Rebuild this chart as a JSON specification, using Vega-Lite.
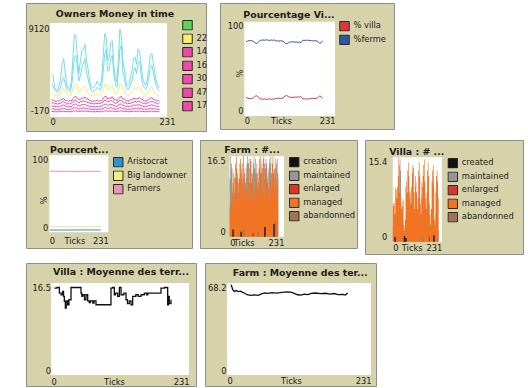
{
"$schema": "https://vega.github.io/schema/vega-lite/v6.json",
"background": "white",
"padding": {"left": 25, "top": 2, "right": 0, "bottom": 0},
"config": {
  "font": "DejaVu Sans",
  "view": {"fill": "#d6d2aa", "stroke": "#8d8d8d", "strokeWidth": 1},
  "axis": {"domain": false, "ticks": false, "grid": false, "labelFont": "DejaVu Sans", "labelFontSize": 8.3, "labelColor": "#1c1c1c", "labelFlush": false, "labelOverlap": false, "labelBound": false, "labelExpr": "'' + datum.value", "titleFont": "DejaVu Sans", "titleFontSize": 8.3, "titleFontWeight": "normal", "titleColor": "#1c1c1c", "titleBaseline": "middle", "titleAlign": "center"},
  "axisX": {"labelBaseline": "middle", "labelAngle": 0, "labelAlign": {"condition": {"test": "datum.value == 0", "value": "left"}, "value": "right"}},
  "axisY": {"labelAlign": "right", "labelBaseline": {"condition": {"test": "datum.value > 0", "value": "top"}, "value": "bottom"}},
  "title": {"font": "DejaVu Sans", "fontSize": 9.4, "fontWeight": "bold", "color": "#1c1c1c", "anchor": "middle", "frame": "group"},
  "legend": {"labelFont": "DejaVu Sans", "labelFontSize": 8.3, "labelColor": "#1c1c1c", "symbolType": "square", "symbolSize": 90, "symbolStrokeColor": "#2a2a2a", "symbolStrokeWidth": 1, "rowPadding": 2.5, "clipHeight": 10.5, "labelOffset": 3.5, "padding": 0, "symbolOpacity": 1},
  "line": {"strokeWidth": 1}
},
"datasets": {
  "money": [
    {"t":3,"c1":4100,"c2":2900,"22":1900,"14":1245,"16":818,"30":531,"47":144,"17":-93},
    {"t":6,"c1":3900,"c2":2700,"22":1850,"14":1125,"16":892,"30":459,"47":206,"17":-127},
    {"t":9,"c1":2600,"c2":2300,"22":1700,"14":1080,"16":738,"30":476,"47":114,"17":-128},
    {"t":12,"c1":2300,"c2":2100,"22":1650,"14":990,"16":780,"30":410,"47":150,"17":-160},
    {"t":15,"c1":2200,"c2":2000,"22":1600,"14":1090,"16":700,"30":440,"47":80,"17":-125},
    {"t":18,"c1":2800,"c2":2200,"22":1700,"14":1055,"16":790,"30":395,"47":150,"17":-140},
    {"t":21,"c1":3600,"c2":2600,"22":1900,"14":1200,"16":782,"30":504,"47":126,"17":-102},
    {"t":24,"c1":5200,"c2":3300,"22":2300,"14":1235,"16":980,"30":525,"47":250,"17":-105},
    {"t":27,"c1":5800,"c2":3700,"22":2500,"14":1345,"16":950,"30":635,"47":220,"17":-75},
    {"t":30,"c1":4200,"c2":3000,"22":2100,"14":1130,"16":892,"30":494,"47":206,"17":-132},
    {"t":33,"c1":2900,"c2":2400,"22":1800,"14":1125,"16":728,"30":461,"47":94,"17":-118},
    {"t":36,"c1":2500,"c2":2200,"22":1700,"14":1030,"16":770,"30":380,"47":140,"17":-145},
    {"t":39,"c1":2400,"c2":2100,"22":1650,"14":1110,"16":710,"30":450,"47":90,"17":-120},
    {"t":42,"c1":3100,"c2":2500,"22":1800,"14":1060,"16":840,"30":420,"47":180,"17":-140},
    {"t":45,"c1":5600,"c2":3900,"22":2400,"14":1330,"16":938,"30":626,"47":214,"17":-78},
    {"t":48,"c1":8500,"c2":5900,"22":2900,"14":1490,"16":1180,"30":710,"47":350,"17":-60},
    {"t":51,"c1":8400,"c2":6200,"22":3000,"14":1580,"16":1092,"30":734,"47":276,"17":-27},
    {"t":54,"c1":6100,"c2":4800,"22":2500,"14":1330,"16":1010,"30":560,"47":260,"17":-85},
    {"t":57,"c1":4200,"c2":3300,"22":2000,"14":1250,"16":822,"30":534,"47":146,"17":-92},
    {"t":60,"c1":5500,"c2":3900,"22":2200,"14":1260,"16":1000,"30":540,"47":260,"17":-100},
    {"t":63,"c1":6700,"c2":4700,"22":2500,"14":1420,"16":1010,"30":680,"47":250,"17":-60},
    {"t":66,"c1":6900,"c2":5300,"22":2600,"14":1355,"16":1072,"30":629,"47":296,"17":-87},
    {"t":69,"c1":7400,"c2":5800,"22":2700,"14":1500,"16":1028,"30":686,"47":244,"17":-43},
    {"t":72,"c1":5600,"c2":4200,"22":2300,"14":1290,"16":978,"30":536,"47":244,"17":-93},
    {"t":75,"c1":4700,"c2":3600,"22":2000,"14":1295,"16":858,"30":561,"47":164,"17":-83},
    {"t":78,"c1":3500,"c2":2800,"22":1800,"14":1095,"16":868,"30":441,"47":194,"17":-133},
    {"t":81,"c1":2700,"c2":2300,"22":1700,"14":1085,"16":742,"30":479,"47":116,"17":-127},
    {"t":84,"c1":2500,"c2":2100,"22":1600,"14":990,"16":780,"30":410,"47":150,"17":-160},
    {"t":87,"c1":2600,"c2":2200,"22":1650,"14":1100,"16":708,"30":446,"47":84,"17":-123},
    {"t":90,"c1":2800,"c2":2300,"22":1700,"14":1055,"16":790,"30":395,"47":150,"17":-145},
    {"t":93,"c1":3300,"c2":2600,"22":1800,"14":1175,"16":762,"30":489,"47":116,"17":-107},
    {"t":96,"c1":2900,"c2":2400,"22":1750,"14":1045,"16":828,"30":411,"47":174,"17":-143},
    {"t":99,"c1":2700,"c2":2300,"22":1700,"14":1085,"16":742,"30":479,"47":116,"17":-127},
    {"t":102,"c1":3600,"c2":2700,"22":1850,"14":1080,"16":852,"30":464,"47":186,"17":-142},
    {"t":105,"c1":6000,"c2":4200,"22":2400,"14":1380,"16":932,"30":614,"47":196,"17":-67},
    {"t":108,"c1":8600,"c2":6300,"22":2900,"14":1530,"16":1170,"30":680,"47":340,"17":-45},
    {"t":111,"c1":8200,"c2":6900,"22":2900,"14":1585,"16":1090,"30":735,"47":280,"17":-25},
    {"t":114,"c1":5600,"c2":4400,"22":2300,"14":1270,"16":1008,"30":546,"47":264,"17":-98},
    {"t":117,"c1":5900,"c2":4600,"22":2400,"14":1355,"16":958,"30":641,"47":224,"17":-73},
    {"t":120,"c1":7600,"c2":5800,"22":2700,"14":1415,"16":1120,"30":665,"47":320,"17":-75},
    {"t":123,"c1":7800,"c2":6200,"22":2800,"14":1530,"16":1052,"30":704,"47":256,"17":-37},
    {"t":126,"c1":5000,"c2":4100,"22":2200,"14":1240,"16":938,"30":506,"47":224,"17":-103},
    {"t":129,"c1":3800,"c2":3000,"22":1900,"14":1220,"16":798,"30":516,"47":134,"17":-98},
    {"t":132,"c1":3200,"c2":2600,"22":1800,"14":1070,"16":848,"30":426,"47":184,"17":-138},
    {"t":135,"c1":5800,"c2":4300,"22":2300,"14":1345,"16":950,"30":635,"47":220,"17":-75},
    {"t":138,"c1":9120,"c2":6800,"22":3000,"14":1490,"16":1180,"30":710,"47":350,"17":-60},
    {"t":141,"c1":8300,"c2":7300,"22":2900,"14":1575,"16":1088,"30":731,"47":274,"17":-28},
    {"t":144,"c1":5500,"c2":4300,"22":2300,"14":1280,"16":970,"30":530,"47":240,"17":-95},
    {"t":147,"c1":4600,"c2":3600,"22":2100,"14":1285,"16":850,"30":555,"47":160,"17":-85},
    {"t":150,"c1":3200,"c2":2600,"22":1800,"14":1070,"16":848,"30":426,"47":184,"17":-138},
    {"t":153,"c1":2700,"c2":2300,"22":1700,"14":1085,"16":742,"30":479,"47":116,"17":-127},
    {"t":156,"c1":2900,"c2":2400,"22":1700,"14":1025,"16":808,"30":431,"47":164,"17":-153},
    {"t":159,"c1":3800,"c2":2900,"22":1900,"14":1200,"16":788,"30":506,"47":124,"17":-103},
    {"t":162,"c1":4500,"c2":3400,"22":2100,"14":1195,"16":902,"30":479,"47":206,"17":-112},
    {"t":165,"c1":5800,"c2":4300,"22":2400,"14":1385,"16":930,"30":615,"47":200,"17":-65},
    {"t":168,"c1":6000,"c2":4800,"22":2500,"14":1300,"16":1032,"30":564,"47":276,"17":-92},
    {"t":171,"c1":5200,"c2":4100,"22":2300,"14":1295,"16":910,"30":605,"47":200,"17":-85},
    {"t":174,"c1":6900,"c2":5400,"22":2700,"14":1355,"16":1072,"30":629,"47":296,"17":-87},
    {"t":177,"c1":6600,"c2":5500,"22":2600,"14":1430,"16":972,"30":644,"47":216,"17":-57},
    {"t":180,"c1":5000,"c2":3900,"22":2200,"14":1240,"16":938,"30":506,"47":224,"17":-103},
    {"t":183,"c1":3700,"c2":2900,"22":1900,"14":1210,"16":790,"30":510,"47":130,"17":-100},
    {"t":186,"c1":3100,"c2":2600,"22":1800,"14":1060,"16":840,"30":420,"47":180,"17":-140},
    {"t":189,"c1":2800,"c2":2400,"22":1750,"14":1095,"16":750,"30":485,"47":120,"17":-125},
    {"t":192,"c1":3400,"c2":2700,"22":1850,"14":1065,"16":840,"30":455,"47":180,"17":-145},
    {"t":195,"c1":4700,"c2":3600,"22":2200,"14":1275,"16":848,"30":551,"47":154,"17":-88},
    {"t":198,"c1":6200,"c2":4700,"22":2500,"14":1340,"16":1018,"30":566,"47":264,"17":-83},
    {"t":201,"c1":6400,"c2":5100,"22":2600,"14":1435,"16":970,"30":645,"47":220,"17":-55},
    {"t":204,"c1":5300,"c2":4200,"22":2300,"14":1245,"16":988,"30":531,"47":254,"17":-103},
    {"t":207,"c1":4200,"c2":3400,"22":2000,"14":1210,"16":842,"30":554,"47":166,"17":-102},
    {"t":210,"c1":3300,"c2":2700,"22":1800,"14":1055,"16":832,"30":449,"47":176,"17":-147},
    {"t":213,"c1":2800,"c2":2400,"22":1700,"14":1115,"16":720,"30":455,"47":90,"17":-120},
    {"t":216,"c1":2500,"c2":2200,"22":1650,"14":1030,"16":770,"30":380,"47":140,"17":-145}
  ],
  "pct": [
    {"t":4,"% villa":19.9,"%ferme":78.6},{"t":8,"% villa":19.0,"%ferme":79.4},{"t":12,"% villa":18.7,"%ferme":79.8},
    {"t":16,"% villa":18.4,"%ferme":80.1},{"t":20,"% villa":18.6,"%ferme":79.7},{"t":24,"% villa":19.5,"%ferme":78.9},
    {"t":28,"% villa":21.0,"%ferme":77.4},{"t":32,"% villa":21.6,"%ferme":76.8},{"t":36,"% villa":19.8,"%ferme":78.5},
    {"t":40,"% villa":18.2,"%ferme":80.2},{"t":44,"% villa":18.0,"%ferme":80.4},{"t":48,"% villa":17.8,"%ferme":80.6},
    {"t":52,"% villa":18.1,"%ferme":80.3},{"t":56,"% villa":17.6,"%ferme":80.8},{"t":60,"% villa":17.9,"%ferme":80.5},
    {"t":64,"% villa":18.3,"%ferme":80.0},{"t":68,"% villa":17.7,"%ferme":80.7},{"t":72,"% villa":18.0,"%ferme":80.3},
    {"t":76,"% villa":17.8,"%ferme":80.6},{"t":80,"% villa":18.6,"%ferme":79.8},{"t":84,"% villa":18.7,"%ferme":79.6},
    {"t":88,"% villa":19.0,"%ferme":79.4},{"t":92,"% villa":18.5,"%ferme":79.9},{"t":96,"% villa":18.8,"%ferme":79.5},
    {"t":100,"% villa":19.4,"%ferme":79.0},{"t":104,"% villa":21.3,"%ferme":77.1},{"t":108,"% villa":21.6,"%ferme":76.7},
    {"t":112,"% villa":20.9,"%ferme":77.5},{"t":116,"% villa":19.8,"%ferme":78.6},{"t":120,"% villa":19.9,"%ferme":78.4},
    {"t":124,"% villa":19.6,"%ferme":78.8},{"t":128,"% villa":20.1,"%ferme":78.2},{"t":132,"% villa":19.8,"%ferme":78.6},
    {"t":136,"% villa":20.3,"%ferme":78.0},{"t":140,"% villa":20.0,"%ferme":78.4},{"t":144,"% villa":20.6,"%ferme":77.8},
    {"t":148,"% villa":18.5,"%ferme":79.9},{"t":152,"% villa":18.0,"%ferme":80.4},{"t":156,"% villa":18.2,"%ferme":80.1},
    {"t":160,"% villa":17.9,"%ferme":80.5},{"t":164,"% villa":18.1,"%ferme":80.2},{"t":168,"% villa":18.4,"%ferme":80.0},
    {"t":172,"% villa":18.6,"%ferme":79.8},{"t":176,"% villa":18.8,"%ferme":79.5},{"t":180,"% villa":18.5,"%ferme":79.9},
    {"t":184,"% villa":18.7,"%ferme":79.6},{"t":188,"% villa":19.6,"%ferme":78.8},{"t":192,"% villa":21.4,"%ferme":77.0},
    {"t":196,"% villa":20.2,"%ferme":78.1},{"t":200,"% villa":18.6,"%ferme":79.7}
  ],
  "cls": [
    {"t":3,"Aristocrat":3.0,"Big landowner":7.3,"Farmers":79.2},
    {"t":50,"Aristocrat":2.9,"Big landowner":7.4,"Farmers":79.3},
    {"t":100,"Aristocrat":3.0,"Big landowner":7.2,"Farmers":79.1},
    {"t":150,"Aristocrat":3.1,"Big landowner":7.3,"Farmers":79.2},
    {"t":202,"Aristocrat":3.0,"Big landowner":7.3,"Farmers":79.2}
  ],
  "farm": [
    {"t":0,"managed":6,"maintained":12},{"t":3,"managed":7,"maintained":16.5},{"t":6,"managed":5,"maintained":15},
    {"t":9,"managed":9,"maintained":14},{"t":12,"managed":11,"maintained":8},{"t":15,"managed":13,"maintained":10},
    {"t":18,"managed":8,"maintained":12},{"t":21,"managed":12,"maintained":9},{"t":24,"managed":15,"maintained":11},
    {"t":27,"managed":16.5,"maintained":10},{"t":30,"managed":14,"maintained":12},{"t":33,"managed":9,"maintained":13},
    {"t":36,"managed":7,"maintained":11},{"t":39,"managed":12,"maintained":9},{"t":42,"managed":15,"maintained":12},
    {"t":45,"managed":16,"maintained":10},{"t":48,"managed":13,"maintained":14},{"t":51,"managed":10,"maintained":12},
    {"t":54,"managed":15,"maintained":11},{"t":57,"managed":16.5,"maintained":9},{"t":60,"managed":12,"maintained":14},
    {"t":63,"managed":8,"maintained":13},{"t":66,"managed":11,"maintained":10},{"t":69,"managed":14,"maintained":12},
    {"t":72,"managed":10,"maintained":15},{"t":75,"managed":9,"maintained":16.5},{"t":78,"managed":12,"maintained":15},
    {"t":81,"managed":8,"maintained":16},{"t":84,"managed":14,"maintained":11},{"t":87,"managed":16,"maintained":12},
    {"t":90,"managed":15.5,"maintained":10},{"t":93,"managed":11,"maintained":13},{"t":96,"managed":13,"maintained":12},
    {"t":99,"managed":9,"maintained":15},{"t":102,"managed":7,"maintained":16.5},{"t":105,"managed":10,"maintained":14},
    {"t":108,"managed":12,"maintained":16},{"t":111,"managed":8,"maintained":13},{"t":114,"managed":11,"maintained":15},
    {"t":117,"managed":13,"maintained":10},{"t":120,"managed":9,"maintained":12},{"t":123,"managed":14,"maintained":11},
    {"t":126,"managed":16,"maintained":13},{"t":129,"managed":16.5,"maintained":12},{"t":132,"managed":13,"maintained":10},
    {"t":135,"managed":15,"maintained":11},{"t":138,"managed":10,"maintained":14},{"t":141,"managed":8,"maintained":16},
    {"t":144,"managed":12,"maintained":16.5},{"t":147,"managed":9,"maintained":15},{"t":150,"managed":14,"maintained":12},
    {"t":153,"managed":16,"maintained":10},{"t":156,"managed":15,"maintained":13},{"t":159,"managed":11,"maintained":12},
    {"t":162,"managed":13,"maintained":9},{"t":165,"managed":10,"maintained":14},{"t":168,"managed":7,"maintained":16},
    {"t":171,"managed":11,"maintained":15},{"t":174,"managed":12,"maintained":16.5},{"t":177,"managed":9,"maintained":13},
    {"t":180,"managed":15,"maintained":11},{"t":183,"managed":16.5,"maintained":12},{"t":186,"managed":13,"maintained":10},
    {"t":189,"managed":10,"maintained":14},{"t":192,"managed":14,"maintained":12},{"t":195,"managed":16,"maintained":9},
    {"t":198,"managed":11,"maintained":15},{"t":201,"managed":8,"maintained":16},{"t":204,"managed":12,"maintained":13},
    {"t":207,"managed":6,"maintained":10}
  ],
  "farmEv": [
    {"t":15,"k":"creation","v":1.5},{"t":49,"k":"creation","v":1.0},{"t":150,"k":"creation","v":2.0},
    {"t":189,"k":"creation","v":2.6},{"t":60,"k":"abandonned","v":1.4},{"t":120,"k":"abandonned","v":1.0},
    {"t":195,"k":"abandonned","v":3.0},{"t":100,"k":"enlarged","v":0.8}
  ],
  "villa": [
    {"t":0,"managed":7,"maintained":3},{"t":3,"managed":6.5,"maintained":2},{"t":6,"managed":7,"maintained":0},
    {"t":9,"managed":5,"maintained":4},{"t":12,"managed":9.8,"maintained":3},{"t":15,"managed":9.5,"maintained":6},
    {"t":18,"managed":8,"maintained":2},{"t":21,"managed":10,"maintained":5},{"t":24,"managed":12,"maintained":3},
    {"t":27,"managed":15.4,"maintained":6},{"t":30,"managed":14,"maintained":4},{"t":33,"managed":9,"maintained":15},
    {"t":36,"managed":7,"maintained":13},{"t":39,"managed":6,"maintained":4},{"t":42,"managed":8,"maintained":5},
    {"t":45,"managed":6.5,"maintained":3},{"t":48,"managed":7.5,"maintained":2},{"t":51,"managed":3,"maintained":1},
    {"t":54,"managed":2,"maintained":1},{"t":57,"managed":4,"maintained":2},{"t":60,"managed":10,"maintained":3},
    {"t":63,"managed":11,"maintained":5},{"t":66,"managed":9,"maintained":4},{"t":69,"managed":13,"maintained":6},
    {"t":72,"managed":14.5,"maintained":3},{"t":75,"managed":12,"maintained":5},{"t":78,"managed":8,"maintained":9},
    {"t":81,"managed":9,"maintained":4},{"t":84,"managed":7,"maintained":3},{"t":87,"managed":10,"maintained":6},
    {"t":90,"managed":12.5,"maintained":4},{"t":93,"managed":14,"maintained":7},{"t":96,"managed":13.5,"maintained":3},
    {"t":99,"managed":9,"maintained":5},{"t":102,"managed":6,"maintained":4},{"t":105,"managed":10,"maintained":12},
    {"t":108,"managed":11,"maintained":8},{"t":111,"managed":9,"maintained":3},{"t":114,"managed":6,"maintained":2},
    {"t":117,"managed":8,"maintained":4},{"t":120,"managed":13,"maintained":5},{"t":123,"managed":14.5,"maintained":3},
    {"t":126,"managed":12,"maintained":6},{"t":129,"managed":7,"maintained":4},{"t":132,"managed":5,"maintained":2},
    {"t":135,"managed":8,"maintained":11},{"t":138,"managed":10,"maintained":5},{"t":141,"managed":12,"maintained":3},
    {"t":144,"managed":14,"maintained":4},{"t":147,"managed":15,"maintained":6},{"t":150,"managed":11,"maintained":3},
    {"t":153,"managed":8,"maintained":4},{"t":156,"managed":6,"maintained":2},{"t":159,"managed":9,"maintained":5},
    {"t":162,"managed":13,"maintained":8},{"t":165,"managed":14.5,"maintained":4},{"t":168,"managed":12,"maintained":6},
    {"t":171,"managed":7,"maintained":3},{"t":174,"managed":5,"maintained":2},{"t":177,"managed":3,"maintained":1},
    {"t":180,"managed":6,"maintained":4},{"t":183,"managed":11,"maintained":5},{"t":186,"managed":13,"maintained":9},
    {"t":189,"managed":14,"maintained":12},{"t":192,"managed":10,"maintained":4},{"t":195,"managed":4,"maintained":2},
    {"t":198,"managed":3,"maintained":1},{"t":201,"managed":9,"maintained":5},{"t":204,"managed":12,"maintained":4},
    {"t":207,"managed":13,"maintained":6},{"t":210,"managed":11,"maintained":3},{"t":213,"managed":8,"maintained":2},
    {"t":216,"managed":0,"maintained":0}
  ],
  "villaEv": [
    {"t":11,"k":"created","v":0.8},{"t":55,"k":"created","v":1.0},{"t":62,"k":"created","v":0.7},
    {"t":172,"k":"enlarged","v":0.9},{"t":194,"k":"created","v":1.2},{"t":140,"k":"abandonned","v":0.6}
  ],
  "vmoy": [
    {"t":5.6,"v":15.6},{"t":10,"v":15.7},{"t":14,"v":14.7},{"t":17,"v":14.4},{"t":19.5,"v":15.0},{"t":21,"v":14.1},
    {"t":22.3,"v":13.2},{"t":24,"v":12.0},{"t":25.5,"v":13.3},{"t":27.9,"v":12.6},{"t":30,"v":13.5},{"t":33.5,"v":15.7},
    {"t":50.2,"v":14.7},{"t":51.5,"v":14.1},{"t":53,"v":14.4},{"t":56,"v":13.5},{"t":58.6,"v":14.4},{"t":61.4,"v":13.3},
    {"t":64,"v":13.0},{"t":66,"v":13.3},{"t":70,"v":12.9},{"t":72,"v":13.3},{"t":75.3,"v":12.6},{"t":100.4,"v":15.6},
    {"t":103,"v":15.7},{"t":106,"v":14.4},{"t":108,"v":14.7},{"t":111.6,"v":14.1},{"t":114.4,"v":15.7},{"t":117.2,"v":14.4},
    {"t":122,"v":14.7},{"t":125.6,"v":13.5},{"t":128,"v":12.8},{"t":131,"v":13.3},{"t":133.9,"v":12.6},{"t":136.7,"v":14.1},
    {"t":142,"v":14.4},{"t":146,"v":14.1},{"t":150.7,"v":14.4},{"t":156.2,"v":14.7},{"t":160,"v":14.4},{"t":162,"v":14.7},
    {"t":170,"v":14.7},{"t":184.1,"v":15.6},{"t":190,"v":15.7},{"t":195.3,"v":12.6},{"t":196.5,"v":14.1},{"t":198,"v":12.8},
    {"t":200.9,"v":13.5}
  ],
  "fmoy": [
    {"t":6.4,"v":66.9},{"t":8,"v":65.0},{"t":9.1,"v":63.2},{"t":11.8,"v":62.0},{"t":15,"v":62.6},{"t":18,"v":61.8},
    {"t":22,"v":62.2},{"t":25,"v":61.3},{"t":27.8,"v":60.8},{"t":32,"v":59.5},{"t":38,"v":59.1},{"t":43.9,"v":59.4},
    {"t":50,"v":59.1},{"t":54.6,"v":60.0},{"t":59.9,"v":60.8},{"t":66,"v":60.5},{"t":72,"v":61.0},{"t":80,"v":60.7},
    {"t":88,"v":61.2},{"t":97.4,"v":61.6},{"t":104,"v":61.3},{"t":113.4,"v":59.5},{"t":118.8,"v":59.2},{"t":124,"v":60.0},
    {"t":130,"v":59.6},{"t":134.8,"v":60.5},{"t":142,"v":60.8},{"t":150,"v":60.3},{"t":158,"v":60.6},{"t":165,"v":60.0},
    {"t":172.2,"v":60.4},{"t":178,"v":59.6},{"t":186,"v":59.8},{"t":190,"v":59.3},{"t":193.6,"v":60.8}
  ]
},
"spacing": 7,
"resolve": {"scale": {"color": "independent", "stroke": "independent"}, "legend": {"color": "independent"}},
"vconcat": [
 {"hconcat": [
  {"width": 180, "height": 128,
   "title": {"text": "Owners Money in time", "dx": -1, "offset": -16},
   "layer": [
    {"data": {"values": [{}]}, "mark": {"type": "rect", "fill": "white"},
     "encoding": {
      "x": {"datum": 0, "type": "quantitative", "scale": {"domain": [-47.4, 308.0], "nice": false, "zero": false}, "axis": {"values": [0, 231], "title": null, "offset": -14, "labelPadding": 5, "labelAlign": {"condition": {"test": "datum.value == 0", "value": "left"}, "value": "center"}}},
      "x2": {"datum": 231},
      "y": {"datum": -730, "type": "quantitative", "scale": {"domain": [-2296.7, 12030.2], "nice": false, "zero": false}, "axis": {"values": [-170, 9120], "title": null, "offset": -24, "labelPadding": 1, "labelBaseline": "middle"}},
      "y2": {"datum": 9792}}},
    {"data": {"name": "money"}, "transform": [{"fold": ["c1", "c2"], "as": ["k", "v"]}],
     "mark": {"type": "line", "color": "#74dfe8", "strokeWidth": 1},
     "encoding": {
      "x": {"field": "t", "type": "quantitative", "scale": {"domain": [-47.4, 308.0], "nice": false, "zero": false}},
      "y": {"field": "v", "type": "quantitative", "scale": {"domain": [-2296.7, 12030.2], "nice": false, "zero": false}},
      "detail": {"field": "k", "type": "nominal"}}},
    {"data": {"name": "money"}, "transform": [{"fold": ["22", "14", "16", "30", "47", "17"], "as": ["k", "v"]}],
     "mark": {"type": "line", "strokeWidth": 1},
     "encoding": {
      "x": {"field": "t", "type": "quantitative", "scale": {"domain": [-47.4, 308.0], "nice": false, "zero": false}},
      "y": {"field": "v", "type": "quantitative", "scale": {"domain": [-2296.7, 12030.2], "nice": false, "zero": false}},
      "stroke": {"field": "k", "type": "nominal", "scale": {"domain": ["22", "14", "16", "30", "47", "17"], "range": ["#f4f06a", "#ee4aa8", "#ee4aa8", "#ee4aa8", "#ee4aa8", "#ee4aa8"]}, "legend": null}}},
    {"data": {"name": "money"}, "transform": [{"filter": "datum.t < 0"}, {"fold": ["22", "14", "16", "30", "47", "17"], "as": ["k", "v"]}],
     "mark": {"type": "square"},
     "encoding": {
      "x": {"field": "t", "type": "quantitative", "scale": {"domain": [-47.4, 308.0], "nice": false, "zero": false}},
      "y": {"field": "v", "type": "quantitative", "scale": {"domain": [-2296.7, 12030.2], "nice": false, "zero": false}},
      "color": {"field": "k", "type": "nominal", "scale": {"domain": ["", "22", "14", "16", "30", "47", "17"], "range": ["#5ed35b", "#f4f06a", "#ee4aa8", "#ee4aa8", "#ee4aa8", "#ee4aa8", "#ee4aa8"]},
        "legend": {"title": null, "orient": "none", "legendX": 156, "legendY": 17, "symbolType": "square", "symbolSize": 90, "symbolOpacity": 1}}}}
   ]},
  {"width": 174, "height": 126,
   "title": {"text": "Pourcentage Vi...", "dx": -18, "offset": -17},
   "layer": [
    {"data": {"values": [{}]}, "mark": {"type": "rect", "fill": "white"},
     "encoding": {
      "x": {"datum": 0, "type": "quantitative", "scale": {"domain": [-61.9, 381.3], "nice": false, "zero": false}, "axis": {"values": [0, 231], "title": "Ticks", "titleX": 61, "titleY": 5, "offset": -13, "labelPadding": 5}},
      "x2": {"datum": 231},
      "y": {"datum": 0, "type": "quantitative", "scale": {"domain": [-13.79, 119.83], "nice": false, "zero": false}, "axis": {"values": [0, 100], "title": "%", "titleX": -4.3, "titleY": 70, "offset": -24.3, "labelPadding": 1.3}},
      "y2": {"datum": 100}}},
    {"data": {"name": "pct"}, "transform": [{"fold": ["% villa", "%ferme"], "as": ["k", "v"]}],
     "mark": {"type": "line", "strokeWidth": 1},
     "encoding": {
      "x": {"field": "t", "type": "quantitative", "scale": {"domain": [-61.9, 381.3], "nice": false, "zero": false}},
      "y": {"field": "v", "type": "quantitative", "scale": {"domain": [-13.79, 119.83], "nice": false, "zero": false}},
      "stroke": {"field": "k", "type": "nominal", "scale": {"domain": ["%ferme", "% villa"], "range": ["#33579f", "#d8393f"]}, "legend": null}}},
    {"data": {"name": "pct"}, "transform": [{"filter": "datum.t < 0"}, {"fold": ["% villa", "%ferme"], "as": ["k", "v"]}],
     "mark": {"type": "square"},
     "encoding": {
      "x": {"field": "t", "type": "quantitative", "scale": {"domain": [-61.9, 381.3], "nice": false, "zero": false}},
      "y": {"field": "v", "type": "quantitative", "scale": {"domain": [-13.79, 119.83], "nice": false, "zero": false}},
      "color": {"field": "k", "type": "nominal", "scale": {"domain": ["% villa", "%ferme"], "range": ["#e0363a", "#2f55a0"]},
        "legend": {"title": null, "orient": "none", "legendX": 119, "legendY": 18, "symbolType": "square", "symbolSize": 90, "symbolOpacity": 1}}}}
   ]}
 ], "spacing": 14, "bounds": "flush", "resolve": {"scale": {"color": "independent", "stroke": "independent"}, "legend": {"color": "independent"}}},
 {"hconcat": [
  {"width": 166, "height": 108,
   "title": {"text": "Pourcent...", "dx": -29.7, "offset": -15.2},
   "layer": [
    {"data": {"values": [{}]}, "mark": {"type": "rect", "fill": "white"},
     "encoding": {
      "x": {"datum": 0, "type": "quantitative", "scale": {"domain": [-91.2, 558.7], "nice": false, "zero": false}, "axis": {"values": [0, 231], "title": "Ticks", "titleX": 48.3, "titleY": 9.4, "offset": -15.7, "labelPadding": 9.4}},
      "x2": {"datum": 231},
      "y": {"datum": 0, "type": "quantitative", "scale": {"domain": [-20.39, 119.87], "nice": false, "zero": false}, "axis": {"values": [0, 100], "title": "%", "titleX": -5, "titleY": 59.7, "offset": -23.3, "labelPadding": 1.6}},
      "y2": {"datum": 100}}},
    {"data": {"name": "cls"}, "transform": [{"fold": ["Aristocrat", "Big landowner", "Farmers"], "as": ["k", "v"]}],
     "mark": {"type": "line", "strokeWidth": 1},
     "encoding": {
      "x": {"field": "t", "type": "quantitative", "scale": {"domain": [-91.2, 558.7], "nice": false, "zero": false}},
      "y": {"field": "v", "type": "quantitative", "scale": {"domain": [-20.39, 119.87], "nice": false, "zero": false}},
      "stroke": {"field": "k", "type": "nominal", "scale": {"domain": ["Farmers", "Big landowner", "Aristocrat"], "range": ["#ec8fb2", "#eeea78", "#3a8fd6"]}, "legend": null}}},
    {"data": {"name": "cls"}, "transform": [{"filter": "datum.t < 0"}, {"fold": ["Aristocrat", "Big landowner", "Farmers"], "as": ["k", "v"]}],
     "mark": {"type": "square"},
     "encoding": {
      "x": {"field": "t", "type": "quantitative", "scale": {"domain": [-91.2, 558.7], "nice": false, "zero": false}},
      "y": {"field": "v", "type": "quantitative", "scale": {"domain": [-20.39, 119.87], "nice": false, "zero": false}},
      "color": {"field": "k", "type": "nominal", "scale": {"domain": ["Aristocrat", "Big landowner", "Farmers"], "range": ["#2f8fd0", "#f3f07a", "#ec93b5"]},
        "legend": {"title": null, "orient": "none", "legendX": 86.7, "legendY": 17, "symbolType": "square", "symbolSize": 90, "symbolOpacity": 1}}}}
   ]},
  {"width": 157, "height": 108,
   "title": {"text": "Farm : #...", "dx": -26.5, "offset": -15.2},
   "layer": [
    {"data": {"values": [{}]}, "mark": {"type": "rect", "fill": "white"},
     "encoding": {
      "x": {"datum": 0, "type": "quantitative", "scale": {"domain": [-104.8, 520.6], "nice": false, "zero": false}, "axis": {"values": [0, 231], "title": "Ticks", "titleX": 43.7, "titleY": 6.6, "offset": -11.3, "labelPadding": 6.6}},
      "x2": {"datum": 231},
      "y": {"datum": 0, "type": "quantitative", "scale": {"domain": [-2.32, 19.84], "nice": false, "zero": false}, "axis": {"values": [0, 16.5], "title": null, "offset": -26.3, "labelPadding": 1}},
      "y2": {"datum": 16.5}}},
    {"data": {"name": "farm"}, "transform": [{"fold": ["maintained"], "as": ["k", "v"]}],
     "mark": {"type": "area", "interpolate": "step-after"},
     "encoding": {
      "x": {"field": "t", "type": "quantitative", "scale": {"domain": [-104.8, 520.6], "nice": false, "zero": false}},
      "y": {"field": "v", "type": "quantitative", "stack": null, "scale": {"domain": [-2.32, 19.84], "nice": false, "zero": false}},
      "color": {"field": "k", "type": "nominal", "scale": {"domain": ["creation", "maintained", "enlarged", "managed", "abandonned"], "range": ["#111111", "#969696", "#d8352c", "#f07424", "#9c7458"]},
        "legend": {"title": null, "orient": "none", "legendX": 88.7, "legendY": 17, "symbolType": "square"}}}},
    {"data": {"name": "farm"}, "transform": [{"fold": ["managed"], "as": ["k", "v"]}],
     "mark": {"type": "area", "interpolate": "step-after"},
     "encoding": {
      "x": {"field": "t", "type": "quantitative", "scale": {"domain": [-104.8, 520.6], "nice": false, "zero": false}},
      "y": {"field": "v", "type": "quantitative", "stack": null, "scale": {"domain": [-2.32, 19.84], "nice": false, "zero": false}},
      "color": {"field": "k", "type": "nominal", "scale": {"domain": ["creation", "maintained", "enlarged", "managed", "abandonned"], "range": ["#111111", "#969696", "#d8352c", "#f07424", "#9c7458"]},
        "legend": {"title": null, "orient": "none", "legendX": 88.7, "legendY": 17, "symbolType": "square"}}}},
    {"data": {"name": "farmEv"},
     "mark": {"type": "bar", "width": 1.3},
     "encoding": {
      "x": {"field": "t", "type": "quantitative", "scale": {"domain": [-104.8, 520.6], "nice": false, "zero": false}},
      "y": {"field": "v", "type": "quantitative", "stack": null, "scale": {"domain": [-2.32, 19.84], "nice": false, "zero": false}},
      "color": {"field": "k", "type": "nominal", "scale": {"domain": ["creation", "maintained", "enlarged", "managed", "abandonned"], "range": ["#111111", "#969696", "#d8352c", "#f07424", "#9c7458"]},
        "legend": {"title": null, "orient": "none", "legendX": 88.7, "legendY": 17, "symbolType": "square"}}}}
   ]},
  {"width": 158, "height": 114,
   "title": {"text": "Villa : # ...", "dx": -27.3, "offset": -17.5},
   "layer": [
    {"data": {"values": [{}]}, "mark": {"type": "rect", "fill": "white"},
     "encoding": {
      "x": {"datum": 0, "type": "quantitative", "scale": {"domain": [-107.1, 589.4], "nice": false, "zero": false}, "axis": {"values": [0, 231], "title": "Ticks", "titleX": 46.7, "titleY": 6.6, "offset": -12.3, "labelPadding": 6.6}},
      "x2": {"datum": 231},
      "y": {"datum": 0, "type": "quantitative", "scale": {"domain": [-2.24, 18.56], "nice": false, "zero": false}, "axis": {"values": [0, 15.4], "title": null, "offset": -24.3, "labelPadding": 2.6}},
      "y2": {"datum": 15.4}}},
    {"data": {"name": "villa"}, "transform": [{"fold": ["maintained"], "as": ["k", "v"]}],
     "mark": {"type": "area", "interpolate": "step-after"},
     "encoding": {
      "x": {"field": "t", "type": "quantitative", "scale": {"domain": [-107.1, 589.4], "nice": false, "zero": false}},
      "y": {"field": "v", "type": "quantitative", "stack": null, "scale": {"domain": [-2.24, 18.56], "nice": false, "zero": false}},
      "color": {"field": "k", "type": "nominal", "scale": {"domain": ["created", "maintained", "enlarged", "managed", "abandonned"], "range": ["#111111", "#969696", "#d8352c", "#f07424", "#9c7458"]},
        "legend": {"title": null, "orient": "none", "legendX": 82.3, "legendY": 18, "symbolType": "square"}}}},
    {"data": {"name": "villa"}, "transform": [{"fold": ["managed"], "as": ["k", "v"]}],
     "mark": {"type": "area", "interpolate": "step-after"},
     "encoding": {
      "x": {"field": "t", "type": "quantitative", "scale": {"domain": [-107.1, 589.4], "nice": false, "zero": false}},
      "y": {"field": "v", "type": "quantitative", "stack": null, "scale": {"domain": [-2.24, 18.56], "nice": false, "zero": false}},
      "color": {"field": "k", "type": "nominal", "scale": {"domain": ["created", "maintained", "enlarged", "managed", "abandonned"], "range": ["#111111", "#969696", "#d8352c", "#f07424", "#9c7458"]},
        "legend": {"title": null, "orient": "none", "legendX": 82.3, "legendY": 18, "symbolType": "square"}}}},
    {"data": {"name": "villaEv"},
     "mark": {"type": "bar", "width": 1.3},
     "encoding": {
      "x": {"field": "t", "type": "quantitative", "scale": {"domain": [-107.1, 589.4], "nice": false, "zero": false}},
      "y": {"field": "v", "type": "quantitative", "stack": null, "scale": {"domain": [-2.24, 18.56], "nice": false, "zero": false}},
      "color": {"field": "k", "type": "nominal", "scale": {"domain": ["created", "maintained", "enlarged", "managed", "abandonned"], "range": ["#111111", "#969696", "#d8352c", "#f07424", "#9c7458"]},
        "legend": {"title": null, "orient": "none", "legendX": 82.3, "legendY": 18, "symbolType": "square"}}}}
   ]}
 ], "spacing": 8, "bounds": "flush", "resolve": {"scale": {"color": "independent", "stroke": "independent"}, "legend": {"color": "independent"}}},
 {"hconcat": [
  {"width": 170, "height": 123,
   "title": {"text": "Villa : Moyenne des terr...", "dx": 10, "offset": -14.5},
   "layer": [
    {"data": {"values": [{}]}, "mark": {"type": "rect", "fill": "white"},
     "encoding": {
      "x": {"datum": 0, "type": "quantitative", "scale": {"domain": [-41.85, 242.7], "nice": false, "zero": false}, "axis": {"values": [0, 231], "title": "Ticks", "titleX": 88, "titleY": 7, "offset": -11, "labelPadding": 7}},
      "x2": {"datum": 231},
      "y": {"datum": 0, "type": "quantitative", "scale": {"domain": [-1.97, 20.09], "nice": false, "zero": false}, "axis": {"values": [0, 16.5], "title": null, "offset": -25, "labelPadding": 0.5}},
      "y2": {"datum": 16.5}}},
    {"data": {"name": "vmoy"},
     "mark": {"type": "line", "interpolate": "step-after", "color": "#111111", "strokeWidth": 1.3},
     "encoding": {
      "x": {"field": "t", "type": "quantitative", "scale": {"domain": [-41.85, 242.7], "nice": false, "zero": false}},
      "y": {"field": "v", "type": "quantitative", "scale": {"domain": [-1.97, 20.09], "nice": false, "zero": false}}}}
   ]},
  {"width": 171, "height": 123,
   "title": {"text": "Farm : Moyenne des ter...", "dx": 9.7, "offset": -15.5},
   "layer": [
    {"data": {"values": [{}]}, "mark": {"type": "rect", "fill": "white"},
     "encoding": {
      "x": {"datum": 0, "type": "quantitative", "scale": {"domain": [-35.3, 239.0], "nice": false, "zero": false}, "axis": {"values": [0, 231], "title": "Ticks", "titleX": 86, "titleY": 6.7, "offset": -11, "labelPadding": 6.7}},
      "x2": {"datum": 231},
      "y": {"datum": 0, "type": "quantitative", "scale": {"domain": [-8.15, 83.03], "nice": false, "zero": false}, "axis": {"values": [0, 68.2], "title": null, "offset": -22, "labelPadding": 1}},
      "y2": {"datum": 68.2}}},
    {"data": {"name": "fmoy"},
     "mark": {"type": "line", "color": "#111111", "strokeWidth": 1.3},
     "encoding": {
      "x": {"field": "t", "type": "quantitative", "scale": {"domain": [-35.3, 239.0], "nice": false, "zero": false}},
      "y": {"field": "v", "type": "quantitative", "scale": {"domain": [-8.15, 83.03], "nice": false, "zero": false}}}}
   ]}
 ], "spacing": 9, "bounds": "flush", "resolve": {"scale": {"color": "independent"}, "legend": {"color": "independent"}}}
]
}
